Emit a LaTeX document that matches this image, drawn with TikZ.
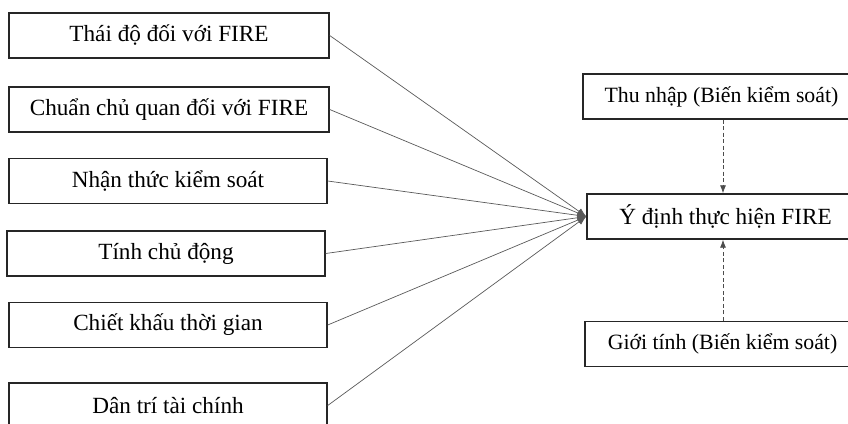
\documentclass[tikz,border=0pt]{standalone}
\usepackage{fontspec}
\setmainfont{Liberation Serif}
\usetikzlibrary{arrows.meta,calc}
\begin{document}
\begin{tikzpicture}[x=1pt,y=-1pt,
  box/.style={draw=black!85,line width=1.4pt,minimum height=45pt,inner sep=0pt,font=\fontsize{23.2}{26}\selectfont},
  cbox/.style={box,font=\fontsize{21.8}{24}\selectfont},
  link/.style={draw=black!65,line width=0.7pt,-{Latex[length=9pt,width=7pt]}},
  ctrl/.style={draw=black!70,line width=0.8pt,dash pattern=on 4pt off 2.5pt,-{Latex[length=8pt,width=6pt]}}]
\useasboundingbox (0,0) rectangle (848,423);
\begin{scope}
\clip (0,0) rectangle (848,423);
\node[box,minimum width=320pt] (b1) at (169,35.5) {Thái độ đối với FIRE};
\node[box,minimum width=320pt] (b2) at (169,109.5) {Chuẩn chủ quan đối với FIRE};
\node[box,minimum width=318pt] (b3) at (168,181) {Nhận thức kiểm soát};
\node[box,minimum width=318pt] (b4) at (166,253.5) {Tính chủ động};
\node[box,minimum width=318pt] (b5) at (168,325) {Chiết khấu thời gian};
\node[box,minimum width=318pt] (b6) at (168,405.5) {Dân trí tài chính};
\node[cbox,minimum width=277pt] (r1) at (721.5,96.5) {Thu nhập (Biến kiểm soát)};
\node[box,minimum width=277pt] (r2) at (725.5,216.5) {Ý định thực hiện FIRE};
\node[cbox,minimum width=275pt] (r3) at (722.5,344) {Giới tính (Biến kiểm soát)};
\foreach \b in {b1,b2,b3,b4,b5,b6} \draw[link] (\b.east) -- (r2.west);
\coordinate (t1) at ($(r1.south)+(1.5,0)$);
\coordinate (t3) at ($(r3.north)+(0.5,0)$);
\draw[ctrl] (t1) -- (t1 |- r2.north);
\draw[ctrl] (t3) -- (t3 |- r2.south);
\end{scope}
\end{tikzpicture}
\end{document}
